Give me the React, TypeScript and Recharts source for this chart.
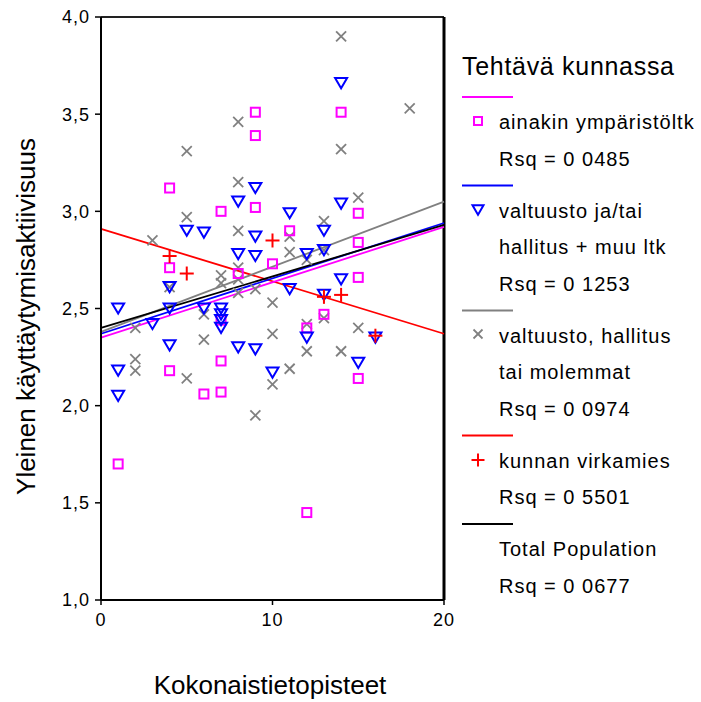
import { ScatterChart, Scatter, XAxis, YAxis, ReferenceLine } from "recharts";

// Kokonaistietopisteet (x) vs. Yleinen käyttäytymisaktiivisuus (y), by group
const ainakinPts: [number, number][] = [
  [1, 1.7], [4, 3.12], [4, 2.71], [4, 2.18], [6, 2.06], [7, 3.0], [7, 2.44],
  [7, 2.23], [7, 2.07], [8, 2.68], [9, 3.51], [9, 3.39], [9, 3.02], [10, 2.73],
  [11, 2.9], [12, 2.4], [12, 1.45], [13, 2.47], [14, 3.51], [15, 2.99],
  [15, 2.84], [15, 2.66], [15, 2.14],
];
const valtuustoPts: [number, number][] = [
  [1, 2.5], [1, 2.18], [1, 2.05], [3, 2.42], [4, 2.61], [4, 2.5], [4, 2.31],
  [5, 2.9], [6, 2.89], [6, 2.5], [7, 2.5], [7, 2.47], [7, 2.44], [7, 2.4],
  [8, 3.05], [8, 2.78], [8, 2.3], [9, 3.12], [9, 2.87], [9, 2.77], [9, 2.29],
  [10, 2.17], [11, 2.99], [11, 2.6], [12, 2.78], [12, 2.35], [13, 2.9],
  [13, 2.8], [13, 2.57], [14, 3.66], [14, 3.04], [14, 2.65], [15, 2.22],
  [16, 2.35],
];
const hallitusPts: [number, number][] = [
  [2, 2.4], [2, 2.24], [2, 2.18], [3, 2.85], [4, 2.61], [5, 3.31], [5, 2.97],
  [5, 2.14], [6, 2.47], [6, 2.34], [7, 2.67], [7, 2.63], [8, 3.46], [8, 3.15],
  [8, 2.9], [8, 2.71], [8, 2.65], [8, 2.58], [9, 2.6], [9, 1.95], [10, 2.53],
  [10, 2.37], [10, 2.11], [11, 2.87], [11, 2.79], [11, 2.19], [12, 2.75],
  [12, 2.42], [12, 2.28], [13, 2.95], [13, 2.8], [13, 2.45], [14, 3.9],
  [14, 3.32], [14, 2.28], [15, 3.07], [15, 2.4], [18, 3.53],
];
const virkamiesPts: [number, number][] = [
  [4, 2.77], [5, 2.68], [10, 2.85], [13, 2.56], [14, 2.57], [16, 2.36],
];

// fit lines, value at x=0 and x=20
const fitX = [0, 20];
const ainakinFit = [2.35, 2.92];
const valtuustoFit = [2.37, 2.94];
const hallitusFit = [2.38, 3.05];
const virkamiesFit = [2.91, 2.37];
const totalFit = [2.4, 2.93];

const yTicks = [1, 1.5, 2, 2.5, 3, 3.5, 4];
const xTicks = [0, 10, 20];

const FONT = "'Liberation Sans', Arial, sans-serif";
const MAGENTA = "#ff00ff";
const BLUE = "#0000ff";
const GRAY = "#808080";
const RED = "#ff0000";

const toObj = (pts: [number, number][]) => pts.map(([x, y]) => ({ x, y }));
const seg = (v: number[]) => [
  { x: fitX[0], y: v[0] },
  { x: fitX[1], y: v[1] },
];

const Square = (p: any) => {
  const s = p.s ?? 9;
  return (
    <rect x={p.cx - s / 2} y={p.cy - s / 2} width={s} height={s}
      fill="none" stroke={MAGENTA} strokeWidth={2} />
  );
};
const Tri = (p: any) => {
  const w = p.s ?? 12;
  const h = w * 0.85;
  return (
    <polygon
      points={`${p.cx - w / 2},${p.cy - h / 2} ${p.cx + w / 2},${p.cy - h / 2} ${p.cx},${p.cy + h / 2}`}
      fill="none" stroke={BLUE} strokeWidth={2} />
  );
};
const Cross = (p: any) => {
  const r = (p.s ?? 10) / 2;
  return (
    <g stroke={GRAY} strokeWidth={1.8}>
      <line x1={p.cx - r} y1={p.cy - r} x2={p.cx + r} y2={p.cy + r} />
      <line x1={p.cx - r} y1={p.cy + r} x2={p.cx + r} y2={p.cy - r} />
    </g>
  );
};
const Plus = (p: any) => {
  const r = (p.s ?? 14) / 2;
  return (
    <g stroke={RED} strokeWidth={2}>
      <line x1={p.cx - r} y1={p.cy} x2={p.cx + r} y2={p.cy} />
      <line x1={p.cx} y1={p.cy - r} x2={p.cx} y2={p.cy + r} />
    </g>
  );
};

const txt = { fontFamily: FONT, fontSize: 20, letterSpacing: 1, fill: "#000" };

function Legend() {
  const lx1 = 462;
  const lx2 = 513;
  const tx = 499;
  const mx = 478;
  return (
    <g>
      <text x={462} y={75} style={{ ...txt, fontSize: 25, letterSpacing: 0.7 }}>
        Tehtävä kunnassa
      </text>
      <line x1={lx1} x2={lx2} y1={97} y2={97} stroke={MAGENTA} strokeWidth={2} />
      <Square cx={mx} cy={121} s={8} />
      <text x={tx} y={129} style={txt}>ainakin ympäristöltk</text>
      <text x={tx} y={165.5} style={txt}>Rsq = 0 0485</text>

      <line x1={lx1} x2={lx2} y1={185.5} y2={185.5} stroke={BLUE} strokeWidth={2} />
      <Tri cx={mx} cy={210} s={11} />
      <text x={tx} y={217.5} style={txt}>valtuusto ja/tai</text>
      <text x={tx} y={254} style={txt}>hallitus + muu ltk</text>
      <text x={tx} y={290.5} style={txt}>Rsq = 0 1253</text>

      <line x1={lx1} x2={lx2} y1={310.5} y2={310.5} stroke={GRAY} strokeWidth={2} />
      <Cross cx={mx} cy={334} s={9} />
      <text x={tx} y={342.5} style={txt}>valtuusto, hallitus</text>
      <text x={tx} y={379} style={txt}>tai molemmat</text>
      <text x={tx} y={415.5} style={txt}>Rsq = 0 0974</text>

      <line x1={lx1} x2={lx2} y1={435.5} y2={435.5} stroke={RED} strokeWidth={2} />
      <Plus cx={mx} cy={460} s={13} />
      <text x={tx} y={467.5} style={txt}>kunnan virkamies</text>
      <text x={tx} y={504} style={txt}>Rsq = 0 5501</text>

      <line x1={lx1} x2={lx2} y1={524} y2={524} stroke="#000" strokeWidth={2} />
      <text x={tx} y={556} style={txt}>Total Population</text>
      <text x={tx} y={592.5} style={txt}>Rsq = 0 0677</text>
    </g>
  );
}

const tickStyle = { fontFamily: FONT, fontSize: 18, fill: "#000", letterSpacing: 1 };

export default function App() {
  return (
    <div style={{ position: "absolute", left: 0, top: 0, width: 701, height: 702, background: "#fff" }}>
      <ScatterChart
        width={701}
        height={702}
        margin={{ top: 17, right: 257, bottom: 62, left: 0 }}
      >
        <XAxis
          type="number"
          dataKey="x"
          domain={[0, 20]}
          ticks={xTicks}
          height={40}
          tick={tickStyle}
          tickSize={5}
          tickMargin={8}
          axisLine={{ stroke: "#000", strokeWidth: 2 }}
          tickLine={{ stroke: "#000", strokeWidth: 1.5 }}
        />
        <YAxis
          type="number"
          dataKey="y"
          domain={[1, 4]}
          ticks={yTicks}
          width={101}
          tick={tickStyle}
          tickFormatter={(v: number) => v.toFixed(1).replace(".", ",")}
          tickSize={6}
          tickMargin={5}
          axisLine={{ stroke: "#000", strokeWidth: 2 }}
          tickLine={{ stroke: "#000", strokeWidth: 1.5 }}
        />
        <ReferenceLine y={4} stroke="#222" strokeWidth={2} />
        <ReferenceLine x={20} stroke="#000" strokeWidth={3} />

        <Scatter data={toObj(hallitusPts)} shape={<Cross />} isAnimationActive={false} />
        <Scatter data={toObj(ainakinPts)} shape={<Square />} isAnimationActive={false} />
        <Scatter data={toObj(valtuustoPts)} shape={<Tri />} isAnimationActive={false} />
        <Scatter data={toObj(virkamiesPts)} shape={<Plus />} isAnimationActive={false} />

        <ReferenceLine segment={seg(virkamiesFit)} stroke={RED} strokeWidth={1.8} />
        <ReferenceLine segment={seg(hallitusFit)} stroke={GRAY} strokeWidth={1.8} />
        <ReferenceLine segment={seg(ainakinFit)} stroke={MAGENTA} strokeWidth={1.8} />
        <ReferenceLine segment={seg(valtuustoFit)} stroke={BLUE} strokeWidth={1.8} />
        <ReferenceLine segment={seg(totalFit)} stroke="#000" strokeWidth={1.8} />
      </ScatterChart>
      <svg
        width={701}
        height={702}
        style={{ position: "absolute", left: 0, top: 0, pointerEvents: "none" }}
      >
        <text
          x={26}
          y={316.5}
          transform="rotate(-90 26 316.5)"
          textAnchor="middle"
          dominantBaseline="central"
          style={{ fontFamily: FONT, fontSize: 26, fill: "#000" }}
        >
          Yleinen käyttäytymisaktiivisuus
        </text>
        <text
          x={270}
          y={685}
          textAnchor="middle"
          dominantBaseline="central"
          style={{ fontFamily: FONT, fontSize: 26, fill: "#000" }}
        >
          Kokonaistietopisteet
        </text>
        <Legend />
      </svg>
    </div>
  );
}
